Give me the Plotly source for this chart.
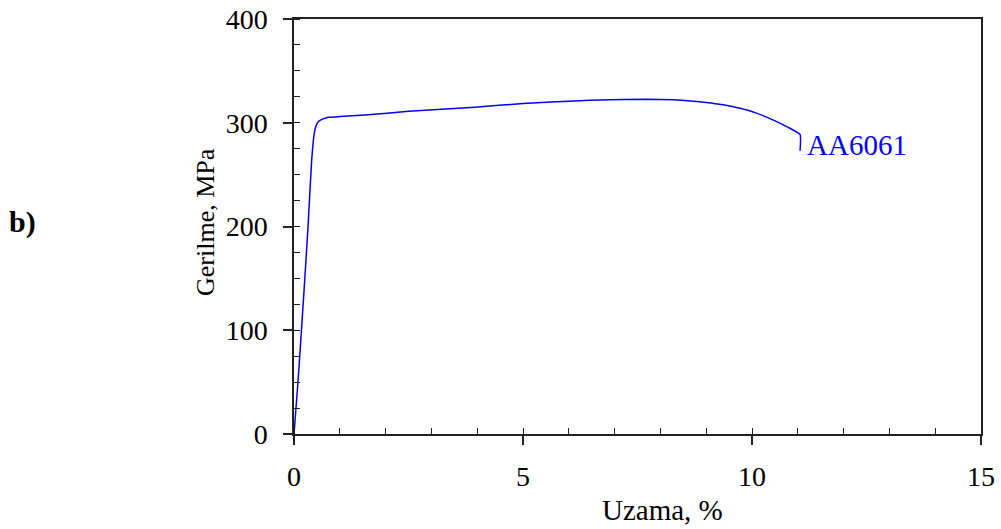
import plotly.graph_objects as go

strain = [0, 0.09, 0.2, 0.3, 0.386, 0.443, 0.48, 0.53, 0.6, 0.75, 1.0, 1.55,
          2.5, 3.95, 5.0, 6.24, 6.68, 7.71, 8.3, 8.65, 8.95, 9.15, 9.4, 9.59, 9.89,
          10.1, 10.33, 10.55, 10.76, 11.05, 11.05]
stress = [0, 52, 125, 195, 264, 290, 297, 301, 303, 305.2, 306, 307.5,
          311, 315, 318.5, 321.3, 322, 322.6, 322.1, 321, 319.8, 318.7, 317.2, 315.5, 312.3,
          309.3, 305.2, 300.8, 296.2, 288.8, 273]
series_name = "AA6061"
x_ticks = [0, 5, 10, 15]
y_ticks = [0, 100, 200, 300, 400]
x_title = "Uzama, %"
y_title = "Gerilme, MPa"

FONT = "Times New Roman, Liberation Serif, serif"

fig = go.Figure()
fig.add_trace(go.Scatter(x=strain, y=stress, mode="lines",
                         line=dict(color="#0000ff", width=1.5, shape="spline", smoothing=0.4),
                         name=series_name, showlegend=False))

fig.add_annotation(x=11.15, y=278.5, text=series_name, showarrow=False,
                   xanchor="left", yanchor="middle",
                   font=dict(family=FONT, size=29, color="#0000ff"))

fig.add_annotation(xref="paper", yref="paper", x=-0.418, y=0.511, text="<b>b)</b>",
                   showarrow=False, xanchor="left", yanchor="middle",
                   font=dict(family=FONT, size=30, color="black"))

fig.add_annotation(xref="paper", yref="paper", x=0.537, y=-0.183, text=x_title,
                   showarrow=False, xanchor="center", yanchor="middle",
                   font=dict(family=FONT, size=29, color="black"))

fig.add_annotation(xref="paper", yref="paper", x=-0.128, y=0.511, text=y_title,
                   showarrow=False, xanchor="center", yanchor="middle", textangle=-90,
                   font=dict(family=FONT, size=26, color="black"))

fig.update_xaxes(range=[0, 15], tickvals=x_ticks, ticktext=[str(v) for v in x_ticks],
                 ticks="outside", ticklen=9, tickwidth=1.5, tickcolor="#222",
                 showline=True, linecolor="#222", linewidth=1.5, mirror=True,
                 showgrid=False, zeroline=False,
                 minor=dict(dtick=1, ticks="inside", ticklen=6, tickwidth=1.2,
                            tickcolor="#222", showgrid=False),
                 tickfont=dict(family=FONT, size=28, color="black"),
                 ticklabelstandoff=8)
fig.update_yaxes(range=[0, 400], tickvals=y_ticks, ticktext=[str(v) for v in y_ticks],
                 ticks="outside", ticklen=9, tickwidth=1.5, tickcolor="#222",
                 showline=True, linecolor="#222", linewidth=1.5, mirror=True,
                 showgrid=False, zeroline=False,
                 minor=dict(dtick=25, ticks="inside", ticklen=6, tickwidth=1.2,
                            tickcolor="#222", showgrid=False),
                 tickfont=dict(family=FONT, size=28, color="black"),
                 ticklabelstandoff=10)

fig.update_layout(width=1001, height=529, plot_bgcolor="white", paper_bgcolor="white",
                  margin=dict(l=294, r=20, t=19, b=95, autoexpand=False))

fig.write_html("out.html")
